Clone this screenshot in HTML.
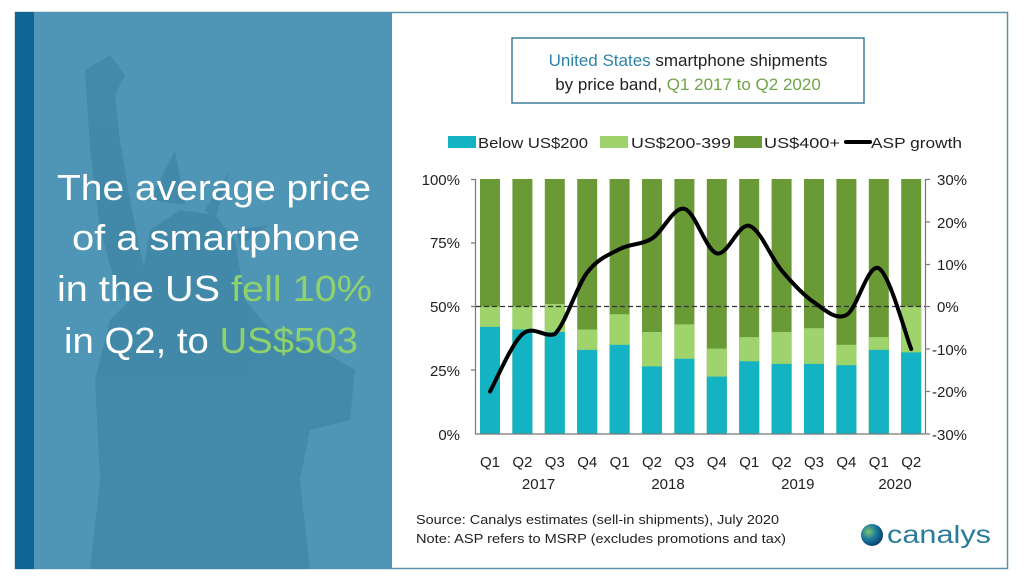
<!DOCTYPE html>
<html><head><meta charset="utf-8"><style>
html,body{margin:0;padding:0;background:#fff;}
svg{display:block;font-family:"Liberation Sans",sans-serif;}
</style></head><body>
<svg width="1024" height="583" viewBox="0 0 1024 583" xmlns="http://www.w3.org/2000/svg">
<rect width="1024" height="583" fill="#fff"/>
<rect x="15.5" y="12.5" width="992" height="556" fill="#fff" stroke="#5b93ad" stroke-width="1.5"/>
<rect x="15" y="12" width="377" height="557" fill="#4f96b6"/>
<rect x="15" y="12" width="19" height="557" fill="#0f6593"/>
<g fill="#3f86a7" opacity="0.8">
<path d="M85 70 L110 55 L125 75 L115 95 L120 140 L130 200 L140 250 L150 290 L120 300 L100 230 L90 150 Z"/>
<path d="M150 230 L180 210 L215 215 L235 240 L245 300 L270 330 L320 350 L355 370 L350 420 L310 430 L300 480 L310 569 L90 569 L100 480 L95 380 L110 320 L140 290 Z"/>
<path d="M150 200 L175 150 L185 205 Z M205 210 L230 170 L215 220 Z M235 230 L270 225 L240 245 Z"/>
</g>
<g font-size="36" fill="#fff">
<text x="57" y="200" textLength="314" lengthAdjust="spacingAndGlyphs">The average price</text>
<text x="72" y="250" textLength="288" lengthAdjust="spacingAndGlyphs">of a smartphone</text>
<text x="57" y="301" textLength="315" lengthAdjust="spacingAndGlyphs">in the US <tspan fill="#8fd16a">fell 10%</tspan></text>
<text x="64" y="353" textLength="294" lengthAdjust="spacingAndGlyphs">in Q2, to <tspan fill="#8fd16a">US$503</tspan></text>
</g>
<rect x="512" y="38" width="352" height="65" fill="#fff" stroke="#3e7f9c" stroke-width="1.5"/>
<g font-size="17" text-anchor="middle" fill="#222">
<text x="688" y="66"><tspan fill="#2c83a8">United States</tspan> smartphone shipments</text>
<text x="688" y="90">by price band, <tspan fill="#6fa547">Q1 2017 to Q2 2020</tspan></text>
</g>
<g font-size="15" fill="#222">
<rect x="448" y="136" width="28" height="12" fill="#13b3c4"/><text x="478" y="148" textLength="110" lengthAdjust="spacingAndGlyphs">Below US$200</text>
<rect x="600" y="136" width="28" height="12" fill="#9ed46b"/><text x="631" y="148" textLength="100" lengthAdjust="spacingAndGlyphs">US$200-399</text>
<rect x="734" y="136" width="28" height="12" fill="#6a9a36"/><text x="764" y="148" textLength="76" lengthAdjust="spacingAndGlyphs">US$400+</text>
<rect x="844" y="140" width="28" height="4" rx="2" fill="#000"/><text x="871" y="148" textLength="91" lengthAdjust="spacingAndGlyphs">ASP growth</text>
</g>
<g>
<rect x="480" y="179" width="20" height="255" fill="#6a9a36"/><rect x="480" y="306.5" width="20" height="127.5" fill="#9ed46b"/><rect x="480" y="326.9" width="20" height="107.1" fill="#13b3c4"/>
<rect x="512.4" y="179" width="20" height="255" fill="#6a9a36"/><rect x="512.4" y="306.5" width="20" height="127.5" fill="#9ed46b"/><rect x="512.4" y="329.5" width="20" height="104.5" fill="#13b3c4"/>
<rect x="544.8" y="179" width="20" height="255" fill="#6a9a36"/><rect x="544.8" y="304" width="20" height="130" fill="#9ed46b"/><rect x="544.8" y="332" width="20" height="102" fill="#13b3c4"/>
<rect x="577.2" y="179" width="20" height="255" fill="#6a9a36"/><rect x="577.2" y="329.5" width="20" height="104.5" fill="#9ed46b"/><rect x="577.2" y="349.9" width="20" height="84.1" fill="#13b3c4"/>
<rect x="609.6" y="179" width="20" height="255" fill="#6a9a36"/><rect x="609.6" y="314.2" width="20" height="119.8" fill="#9ed46b"/><rect x="609.6" y="344.8" width="20" height="89.2" fill="#13b3c4"/>
<rect x="642" y="179" width="20" height="255" fill="#6a9a36"/><rect x="642" y="332" width="20" height="102" fill="#9ed46b"/><rect x="642" y="366.4" width="20" height="67.6" fill="#13b3c4"/>
<rect x="674.4" y="179" width="20" height="255" fill="#6a9a36"/><rect x="674.4" y="324.4" width="20" height="109.6" fill="#9ed46b"/><rect x="674.4" y="358.8" width="20" height="75.2" fill="#13b3c4"/>
<rect x="706.8" y="179" width="20" height="255" fill="#6a9a36"/><rect x="706.8" y="348.6" width="20" height="85.4" fill="#9ed46b"/><rect x="706.8" y="376.6" width="20" height="57.4" fill="#13b3c4"/>
<rect x="739.2" y="179" width="20" height="255" fill="#6a9a36"/><rect x="739.2" y="337.1" width="20" height="96.9" fill="#9ed46b"/><rect x="739.2" y="361.3" width="20" height="72.7" fill="#13b3c4"/>
<rect x="771.6" y="179" width="20" height="255" fill="#6a9a36"/><rect x="771.6" y="332" width="20" height="102" fill="#9ed46b"/><rect x="771.6" y="363.9" width="20" height="70.1" fill="#13b3c4"/>
<rect x="804" y="179" width="20" height="255" fill="#6a9a36"/><rect x="804" y="328.2" width="20" height="105.8" fill="#9ed46b"/><rect x="804" y="363.9" width="20" height="70.1" fill="#13b3c4"/>
<rect x="836.4" y="179" width="20" height="255" fill="#6a9a36"/><rect x="836.4" y="344.8" width="20" height="89.2" fill="#9ed46b"/><rect x="836.4" y="365.2" width="20" height="68.8" fill="#13b3c4"/>
<rect x="868.8" y="179" width="20" height="255" fill="#6a9a36"/><rect x="868.8" y="337.1" width="20" height="96.9" fill="#9ed46b"/><rect x="868.8" y="349.9" width="20" height="84.1" fill="#13b3c4"/>
<rect x="901.2" y="179" width="20" height="255" fill="#6a9a36"/><rect x="901.2" y="306.5" width="20" height="127.5" fill="#9ed46b"/><rect x="901.2" y="352.4" width="20" height="81.6" fill="#13b3c4"/>
</g>
<g stroke="#777" stroke-width="1.2" fill="none">
<path d="M475.5 179 V434 H925"/>
<path d="M471 179.5 H475.5 M471 243 H475.5 M471 306.5 H475.5 M471 370 H475.5"/>
<path d="M925.5 179 V434 M925.5 179.5 H930 M925.5 222 H930 M925.5 264.5 H930 M925.5 306.5 H930 M925.5 349 H930 M925.5 391.5 H930 M925.5 434 H930"/>
</g>
<line x1="476" y1="306.5" x2="925" y2="306.5" stroke="#333" stroke-width="1.3" stroke-dasharray="5,3"/>
<path fill="none" stroke="#000" stroke-width="4" stroke-linejoin="round" stroke-linecap="round"
d="M490,391.5 C495.4,381.9 511.6,343.7 522.4,334.1 C533.2,324.5 544,338 554.8,334.1 C565.6,323.8 576.4,286.7 587.2,272.5 C598,258.3 608.8,254.8 619.6,249.1 C630.4,243.4 641.2,245.2 652,238.5 C662.8,231.8 673.6,206.3 684.4,208.8 C695.2,211.3 706,250.6 716.8,253.4 C727.6,256.2 738.4,223 749.2,225.8 C760,228.6 770.8,257.7 781.6,270.4 C792.4,283.2 803.2,294.9 814,302.3 C824.8,309.7 835.6,320.7 846.4,315 C857.2,309.3 868,262.6 878.8,268.3 C889.6,274 905.8,335.6 911.2,349"/>
<g font-size="15" fill="#222" text-anchor="end">
<text x="460" y="185">100%</text><text x="460" y="248">75%</text><text x="460" y="312">50%</text><text x="460" y="376">25%</text><text x="460" y="440">0%</text>
</g>
<g font-size="15" fill="#222">
<text x="937" y="185">30%</text><text x="937" y="228">20%</text><text x="937" y="270">10%</text><text x="937" y="312">0%</text><text x="932" y="355">-10%</text><text x="932" y="397">-20%</text><text x="932" y="440">-30%</text>
</g>
<g font-size="15" fill="#222" text-anchor="middle">
<text x="490" y="467">Q1</text><text x="522.4" y="467">Q2</text><text x="554.8" y="467">Q3</text><text x="587.2" y="467">Q4</text><text x="619.6" y="467">Q1</text><text x="652" y="467">Q2</text><text x="684.4" y="467">Q3</text><text x="716.8" y="467">Q4</text><text x="749.2" y="467">Q1</text><text x="781.6" y="467">Q2</text><text x="814" y="467">Q3</text><text x="846.4" y="467">Q4</text><text x="878.8" y="467">Q1</text><text x="911.2" y="467">Q2</text>
<text x="538.6" y="489">2017</text><text x="668" y="489">2018</text><text x="797.8" y="489">2019</text><text x="895" y="489">2020</text>
</g>
<g font-size="13" fill="#222">
<text x="416" y="524" textLength="363" lengthAdjust="spacingAndGlyphs">Source: Canalys estimates (sell-in shipments), July 2020</text>
<text x="416" y="543" textLength="370" lengthAdjust="spacingAndGlyphs">Note: ASP refers to MSRP (excludes promotions and tax)</text>
</g>
<defs><radialGradient id="g" cx="0.35" cy="0.35" r="0.7"><stop offset="0" stop-color="#7cc46a"/><stop offset="0.5" stop-color="#1c7aa0"/><stop offset="1" stop-color="#0b3f66"/></radialGradient></defs>
<circle cx="872" cy="535" r="11" fill="url(#g)"/>
<text x="887" y="543" font-size="25" fill="#2a7a9a" textLength="104" lengthAdjust="spacingAndGlyphs">canalys</text>
</svg>
</body></html>
